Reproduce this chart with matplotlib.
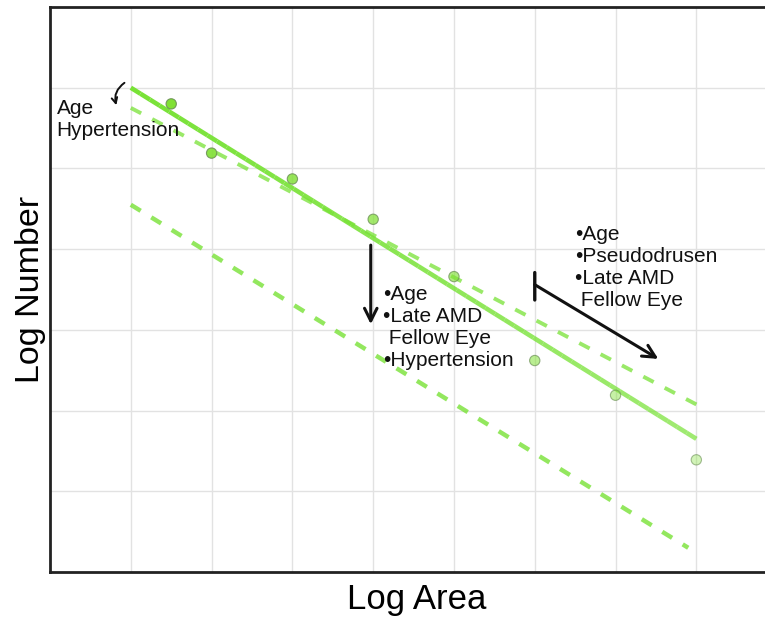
import numpy as np
import matplotlib
matplotlib.use("Agg")
import matplotlib.pyplot as plt
from matplotlib.collections import LineCollection
from matplotlib.colors import to_rgba

plt.rcParams['font.family'] = ['Liberation Sans', 'DejaVu Sans']

# observed points (log area, log number)
pt_x = [1.5, 2.0, 3.0, 4.0, 5.0, 6.0, 7.0, 8.0]
pt_y = [5.80, 5.19, 4.87, 4.37, 3.66, 2.62, 2.19, 1.39]

# fitted lines: (x start, x end), (y start, y end)
solid_x = [1.0, 8.0]
solid_y = [6.0, 1.65]
upper_x = [1.0, 8.05]
upper_y = [5.75, 2.05]
lower_x = [1.0, 7.9]
lower_y = [4.55, 0.30]

green = '#78e236'


def fade_line(ax, xs, ys, lw, a0=1.0, a1=0.7, n=60):
    x = np.linspace(xs[0], xs[1], n)
    y = np.linspace(ys[0], ys[1], n)
    pts = np.column_stack([x, y]).reshape(-1, 1, 2)
    segs = np.concatenate([pts[:-1], pts[1:]], axis=1)
    cols = [to_rgba(green, a) for a in np.linspace(a0, a1, n - 1)]
    lc = LineCollection(segs, colors=cols, linewidths=lw, capstyle='butt')
    ax.add_collection(lc)


fig = plt.figure(figsize=(7.65, 6.21), dpi=100)
ax = fig.add_axes([0.0654, 0.0789, 0.9346, 0.9098])
ax.set_xlim(0, 8.85)
ax.set_ylim(0, 7)
ax.set_xticks(np.arange(1, 9))
ax.set_yticks(np.arange(1, 7))
ax.grid(True, color='#e2e2e2', lw=1)
ax.tick_params(length=0, labelbottom=False, labelleft=False)
for s in ['left', 'bottom', 'top']:
    ax.spines[s].set_linewidth(2)
    ax.spines[s].set_color('#222222')
ax.spines['right'].set_visible(False)

fade_line(ax, solid_x, solid_y, 3.3)
ax.plot(upper_x, upper_y, color=green, lw=2.8, alpha=0.75, dashes=(3.0, 3.2))
ax.plot(lower_x, lower_y, color=green, lw=3.2, alpha=0.8, dashes=(2.6, 2.8))

fills = [to_rgba('#80e034', a) for a in np.linspace(1.0, 0.35, len(pt_x))]
edges = [to_rgba('#6b8f55', a) for a in np.linspace(0.9, 0.6, len(pt_x))]
ax.scatter(pt_x, pt_y, s=55, c=fills, edgecolors=edges, linewidths=0.8, zorder=5)

ax.set_xlabel('Log Area', fontsize=25)
ax.xaxis.set_label_coords(0.513, -0.02)
ax.set_ylabel('Log Number', fontsize=24.5, labelpad=3)

txt = dict(fontsize=15, color='#111111', va='top', ha='left', linespacing=1.2)
ax.text(0.08, 5.86, 'Age\nHypertension', **txt)
ax.text(4.12, 3.55, '\u2022Age\n\u2022Late AMD\n Fellow Eye\n\u2022Hypertension', **txt)
ax.text(6.5, 4.3, '\u2022Age\n\u2022Pseudodrusen\n\u2022Late AMD\n Fellow Eye', **txt)

# small curved arrow near left text
ax.annotate('', xy=(0.83, 5.75), xytext=(0.95, 6.08),
            arrowprops=dict(arrowstyle='->', color='#111111', lw=1.4,
                            connectionstyle='arc3,rad=0.4'))
# vertical arrow
ax.annotate('', xy=(3.97, 3.07), xytext=(3.97, 4.05),
            arrowprops=dict(arrowstyle='->,head_length=0.9,head_width=0.45',
                            color='#111111', lw=2.2, shrinkA=0, shrinkB=0))
# bracket: vertical bar plus diagonal arrow
ax.annotate('', xy=(6.0, 3.37), xytext=(6.0, 3.71),
            arrowprops=dict(arrowstyle='-', color='#111111', lw=2.4, shrinkA=0, shrinkB=0))
ax.annotate('', xy=(7.53, 2.64), xytext=(6.0, 3.56),
            arrowprops=dict(arrowstyle='->,head_length=0.9,head_width=0.45',
                            color='#111111', lw=2.2, shrinkA=0, shrinkB=0))

fig.savefig('out.png', dpi=100)
